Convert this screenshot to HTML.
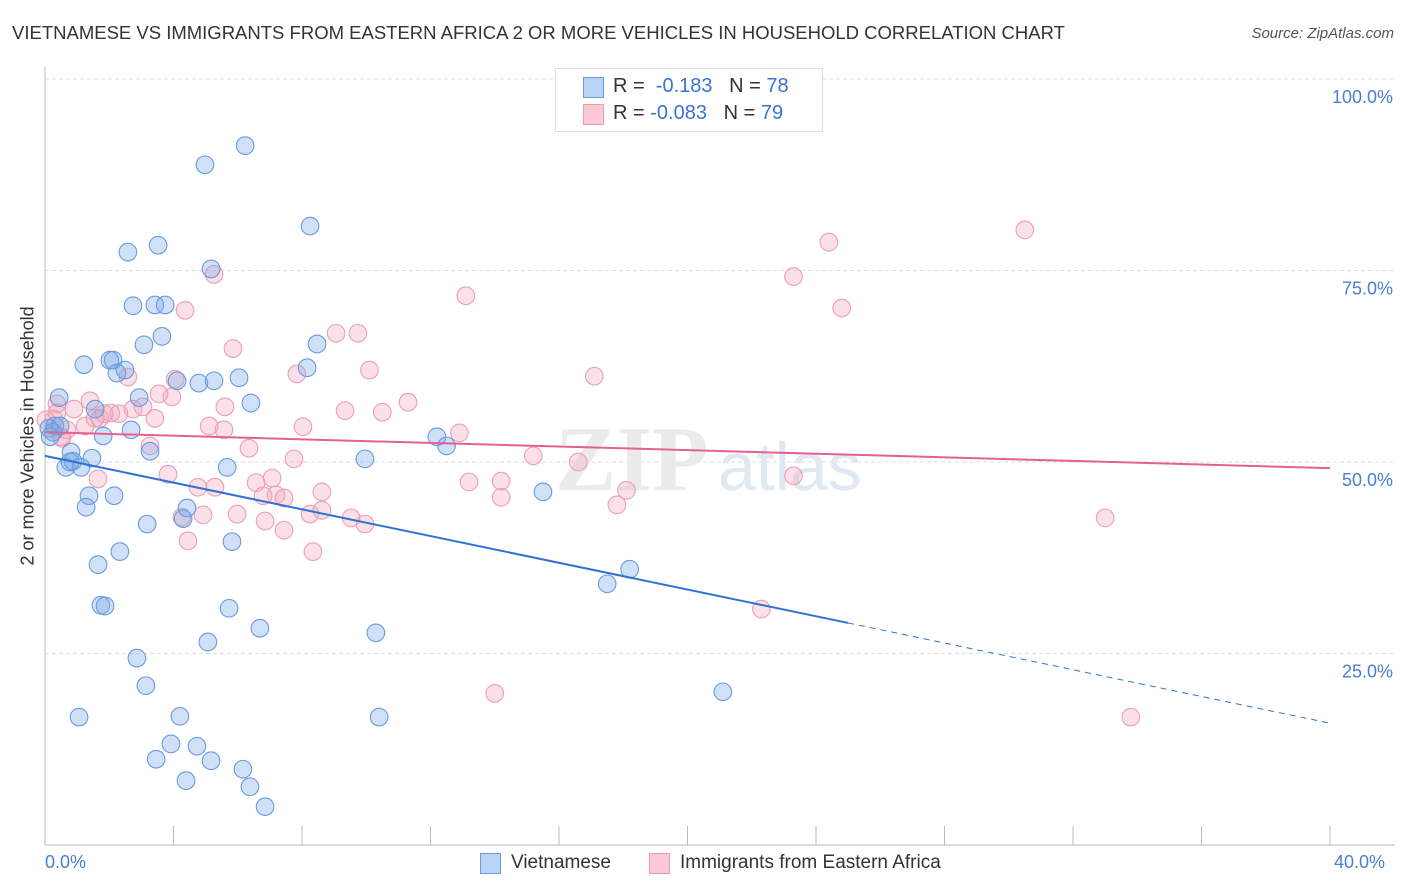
<!DOCTYPE html>
<html><head><meta charset="utf-8"><style>
body{margin:0;background:#fff;font-family:"Liberation Sans",sans-serif;}
#wrap{position:relative;width:1406px;height:892px;overflow:hidden;}
.t{position:absolute;white-space:nowrap;}
</style></head><body>
<div id="wrap">
<div class="t" style="left:12px;top:22px;font-size:18.5px;color:#333;">VIETNAMESE VS IMMIGRANTS FROM EASTERN AFRICA 2 OR MORE VEHICLES IN HOUSEHOLD CORRELATION CHART</div>
<div class="t" style="right:12px;top:25px;font-size:15px;color:#555;font-style:italic;">Source: ZipAtlas.com</div>
<svg id="svg" width="1406" height="892" style="position:absolute;left:0;top:0"></svg>
</div>
<script>
const blueX=[6.23,4.98,8.25,3.52,2.58,5.17,2.74,3.42,3.74,3.64,3.08,8.47,1.21,2.02,2.12,2.49,2.24,8.16,4.11,4.79,5.26,6.04,2.93,0.44,1.56,6.41,0.31,0.12,0.47,2.68,1.81,12.2,12.5,3.27,9.96,1.46,0.81,0.65,0.87,1.12,5.67,15.5,1.37,2.15,1.28,4.42,4.30,3.18,5.82,2.33,1.65,18.2,17.5,1.74,1.87,5.73,6.69,10.3,5.07,2.86,3.14,21.1,1.06,4.20,10.4,3.92,4.73,3.46,5.17,6.16,4.39,6.38,6.85,0.25,0.16,0.78];
const blueY=[91.3,88.8,80.8,78.3,77.4,75.2,70.4,70.5,70.5,66.4,65.3,65.4,62.7,63.3,63.3,62.0,61.6,62.3,60.6,60.3,60.6,61.0,58.4,58.4,56.9,57.7,54.7,54.4,54.7,54.2,53.4,53.3,52.1,51.4,50.4,50.5,51.3,49.3,50.1,49.3,49.3,46.1,45.6,45.6,44.1,44.0,42.6,41.9,39.6,38.3,36.6,36.0,34.1,31.3,31.2,30.9,28.3,27.7,26.5,24.4,20.8,20.0,16.7,16.8,16.7,13.2,12.9,11.2,11.0,9.9,8.4,7.6,5.0,53.9,53.3,50.0];
const pinkX=[30.5,24.4,23.3,5.26,13.1,24.8,4.36,9.06,9.74,5.85,10.1,17.1,7.84,2.58,4.05,3.95,3.55,11.3,9.34,10.5,5.60,0.37,0.90,1.40,1.56,2.74,3.05,1.71,2.05,2.30,1.84,3.42,0.28,0.50,0.68,1.25,5.11,5.57,8.03,12.9,3.27,6.35,16.6,15.2,7.75,3.83,0.37,7.07,14.2,13.2,23.3,1.65,6.57,4.76,5.29,18.1,8.62,7.19,7.44,6.79,14.2,17.8,9.53,9.96,5.98,4.26,4.92,8.25,8.62,6.85,7.44,33.0,4.45,8.34,22.3,14.0,33.8,0.53,0.03];
const pinkY=[80.3,78.7,74.2,74.5,71.7,70.1,69.8,66.8,66.8,64.8,62.0,61.2,61.5,61.1,60.8,58.5,58.9,57.8,56.7,56.5,57.2,57.6,56.9,58.0,55.7,56.9,57.2,55.7,56.4,56.3,56.3,55.7,55.6,53.3,54.2,54.7,54.7,54.2,54.6,53.8,52.1,51.8,50.0,50.8,50.4,48.4,56.4,47.9,47.5,47.4,48.2,47.8,47.3,46.7,46.7,46.3,46.1,45.7,45.3,45.6,45.4,44.4,42.7,41.9,43.2,42.8,43.1,43.2,43.7,42.3,41.1,42.7,39.7,38.3,30.8,19.8,16.7,53.1,55.5];
const yTicks=[25,50,75,100];
const yTickLabels=["25.0%","50.0%","75.0%","100.0%"];
const blueTrend=[50.8,15.9], blueSolidEnd=25;
const pinkTrend=[53.9,49.2];

const X0=45,X1=1330,Y0=845,PY=7.66;
const sx=v=>X0+(v/40)*(X1-X0);
const sy=v=>Y0-v*PY;
const svg=document.getElementById('svg');
const NS='http://www.w3.org/2000/svg';
function mk(tag,at){const e=document.createElementNS(NS,tag);for(const k in at)e.setAttribute(k,at[k]);svg.appendChild(e);return e;}
yTicks.forEach((t,i)=>{
  const g=mk('line',{x1:X0,x2:1395,y1:sy(t),y2:sy(t),stroke:'#ddd','stroke-dasharray':'4,3'});
  
  
  const l=mk('text',{x:1393,y:sy(t)+24,'text-anchor':'end','font-size':18,fill:'#4a7fd0','font-family':'Liberation Sans'});
  l.textContent=yTickLabels[i];
  
  
});
const ax=mk('line',{x1:X0,x2:X0,y1:67,y2:Y0,stroke:'#bbb'});


const bx=mk('line',{x1:X0,x2:1395,y1:Y0,y2:Y0,stroke:'#bbb'});


for(let i=0;i<=10;i++){
  const tk=mk('line',{x1:sx(i*4),x2:sx(i*4),y1:826,y2:Y0,stroke:'#bbb'});
  
  
}
const wm=mk('text',{x:555,y:490,'font-size':92,fill:'#ebebeb','font-family':'Liberation Serif','font-weight':'bold'});
wm.textContent='ZIP';


const wm2=mk('text',{x:718,y:490,'font-size':68,fill:'#e0e8f4','font-family':'Liberation Sans'});
wm2.textContent='atlas';


function pts(xs,ys,fill,stroke,name){
  xs.forEach((x,i)=>{
    const c=mk('circle',{cx:sx(x),cy:sy(ys[i]),r:8.8,fill:fill,stroke:stroke,'stroke-width':1.1});
    
    
  });
}
pts(pinkX,pinkY,'rgba(244,165,190,0.35)','#eaa0b7','pink-point');
pts(blueX,blueY,'rgba(120,168,232,0.35)','#6a9ade','blue-point');
const bs=blueTrend[0]+(blueTrend[1]-blueTrend[0])*blueSolidEnd/40;
const bl=mk('line',{x1:sx(0),y1:sy(blueTrend[0]),x2:sx(blueSolidEnd),y2:sy(bs),stroke:'#2f72d6','stroke-width':2});


const bd=mk('line',{x1:sx(blueSolidEnd),y1:sy(bs),x2:sx(40),y2:sy(blueTrend[1]),stroke:'#2f72d6','stroke-width':1,'stroke-dasharray':'6,5'});


const pl=mk('line',{x1:sx(0),y1:sy(pinkTrend[0]),x2:sx(40),y2:sy(pinkTrend[1]),stroke:'#e4608e','stroke-width':2});


</script>
<div class="t" style="left:-82px;top:445px;font-size:18px;color:#333;transform:rotate(-90deg);width:220px;text-align:center;">2 or more Vehicles in Household</div>
<div class="t" style="left:45px;top:852px;font-size:18px;color:#4a7fd0;">0.0%</div>
<div class="t" style="left:1334px;top:852px;font-size:18px;color:#4a7fd0;">40.0%</div>
<div style="position:absolute;left:555px;top:68px;width:266px;height:62px;border:1px solid #ddd;background:#fff;font-size:20px;">
  <div style="position:absolute;left:27px;top:8px;width:19px;height:19px;background:#b8d3f5;border:1px solid #6b9be0;"></div>
  <div class="t" style="left:57px;top:6px;color:#333;">R = &nbsp;<span style="color:#3a74d0">-0.183</span> &nbsp; N = <span style="color:#3a74d0">78</span></div>
  <div style="position:absolute;left:27px;top:35px;width:19px;height:19px;background:#fbc8d6;border:1px solid #ee9ab4;"></div>
  <div class="t" style="left:57px;top:33px;color:#333;">R = <span style="color:#3a74d0">-0.083</span> &nbsp; N = <span style="color:#3a74d0">79</span></div>
</div>
<div style="position:absolute;left:480px;top:852px;font-size:19px;color:#333;">
  <div style="position:absolute;left:0;top:0;width:200px;"><span style="position:absolute;left:0;top:1px;width:19px;height:19px;background:#b8d3f5;border:1px solid #6b9be0;"></span><span class="t" style="left:31px;top:0">Vietnamese</span></div>
  <div style="position:absolute;left:169px;top:0;width:320px;"><span style="position:absolute;left:0;top:1px;width:19px;height:19px;background:#fbc8d6;border:1px solid #ee9ab4;"></span><span class="t" style="left:31px;top:0">Immigrants from Eastern Africa</span></div>
</div>
</body></html>
